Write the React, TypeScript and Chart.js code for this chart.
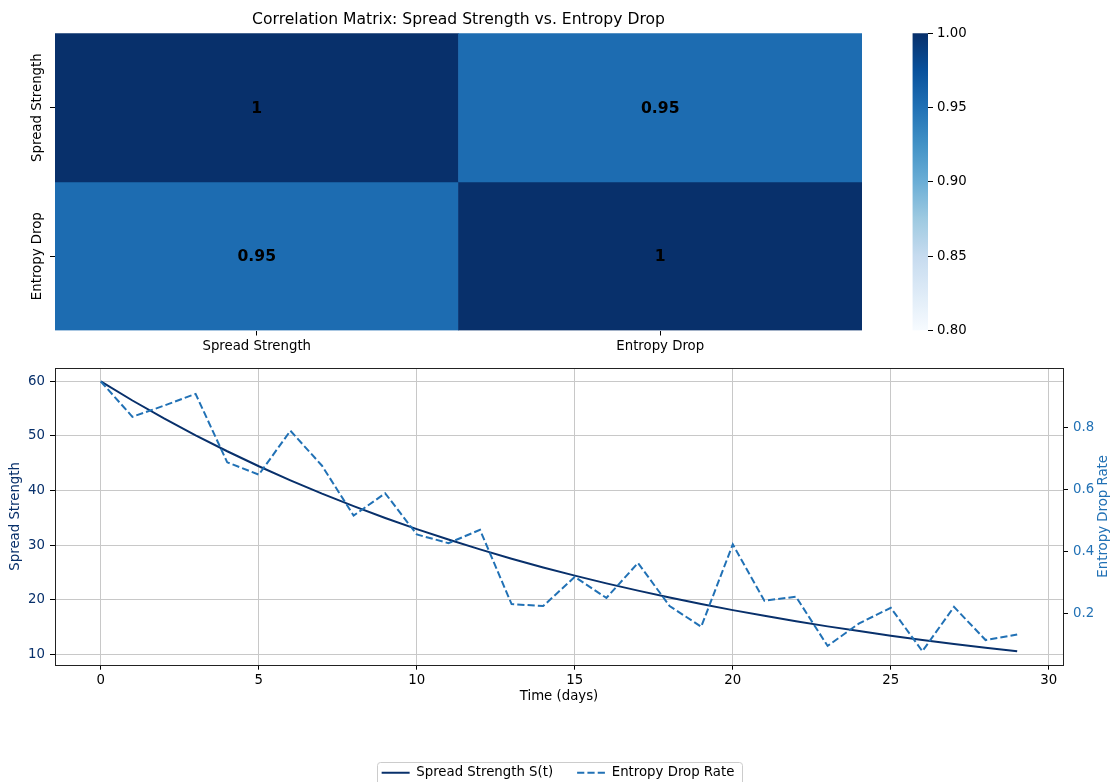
import React, { useEffect, useRef } from 'react';
import { Chart, registerables } from 'chart.js';

Chart.register(...registerables);

const FONT = "'DejaVu Sans', 'Liberation Sans', sans-serif";
Chart.defaults.font.family = FONT;
Chart.defaults.color = '#000';

// ---------- Heatmap data ----------
const matrixLabels = ['Spread Strength', 'Entropy Drop'];
const matrixRow0 = [1, 0.954];
const matrixRow1 = [0.954, 1];
const colorbarMin = 0.8;
const colorbarMax = 1.0;
const colorbarTicks = [0.8, 0.85, 0.9, 0.95, 1.0];
const heatTitle = 'Correlation Matrix: Spread Strength vs. Entropy Drop';

// ---------- Time series data ----------
const days = [0, 1, 2, 3, 4, 5, 6, 7, 8, 9, 10, 11, 12, 13, 14, 15, 16, 17, 18, 19, 20, 21, 22, 23, 24, 25, 26, 27, 28, 29];
const spreadStrength = [
  60.0, 56.51, 53.22, 50.12, 47.2, 44.45, 41.86, 39.42, 37.13, 34.96,
  32.93, 31.01, 29.21, 27.5, 25.9, 24.39, 22.97, 21.64, 20.38, 19.19,
  18.07, 17.02, 16.03, 15.09, 14.22, 13.39, 12.61, 11.87, 11.18, 10.53,
];
const entropyDrop = [
  0.949, 0.835, 0.871, 0.909, 0.688, 0.648, 0.79, 0.677, 0.516, 0.588,
  0.455, 0.427, 0.47, 0.23, 0.224, 0.318, 0.25, 0.363, 0.224, 0.157,
  0.423, 0.241, 0.254, 0.095, 0.168, 0.218, 0.078, 0.221, 0.114, 0.132,
];
const xTicks = [0, 5, 10, 15, 20, 25, 30];
const leftTicks = [10, 20, 30, 40, 50, 60];
const rightTicks = [0.2, 0.4, 0.6, 0.8];
const seriesLabels = ['Spread Strength S(t)', 'Entropy Drop Rate'];
const xTitle = 'Time (days)';
const leftTitle = 'Spread Strength';
const rightTitle = 'Entropy Drop Rate';

// ---------- Styles ----------
const NAVY = '#08306b';
const BLUE = '#2171b5';
const GRID = '#c8c8c8';
const BLUES = ['#f7fbff', '#deebf7', '#c6dbef', '#9ecae1', '#6baed6', '#4292c6', '#2171b5', '#08519c', '#08306b'];

function hexToRgb(h: string) {
  const n = parseInt(h.slice(1), 16);
  return [(n >> 16) & 255, (n >> 8) & 255, n & 255];
}
function blues(t: number) {
  const c = Math.max(0, Math.min(1, t)) * (BLUES.length - 1);
  const i = Math.min(Math.floor(c), BLUES.length - 2);
  const f = c - i;
  const a = hexToRgb(BLUES[i]);
  const b = hexToRgb(BLUES[i + 1]);
  const m = a.map((v, k) => Math.round(v + (b[k] - v) * f));
  return `rgb(${m[0]},${m[1]},${m[2]})`;
}
const fmt2g = (v: number) => String(Number(v.toPrecision(2)));

const FS = 13.3;
const font13 = { size: FS, family: FONT };
const LINE_LEFT = 3;

export default function App() {
  const heatRef = useRef<HTMLCanvasElement>(null);
  const cbRef = useRef<HTMLCanvasElement>(null);
  const lineRef = useRef<HTMLCanvasElement>(null);

  useEffect(() => {
    const rows = [matrixRow0, matrixRow1];

    const heatPlugin = {
      id: 'heatDecor',
      afterDatasetsDraw(chart: any) {
        const ctx = chart.ctx;
        ctx.save();
        ctx.font = `bold 15.6px ${FONT}`;
        ctx.fillStyle = '#000';
        ctx.textAlign = 'center';
        ctx.textBaseline = 'middle';
        chart.data.datasets.forEach((ds: any, di: number) => {
          const meta = chart.getDatasetMeta(di);
          meta.data.forEach((bar: any, j: number) => {
            const p = bar.getProps(['x', 'y', 'base'], true);
            ctx.fillText(fmt2g(rows[di][j]), p.x, (p.y + p.base) / 2 + 1);
          });
        });
        ctx.restore();
      },
      afterDraw(chart: any) {
        const ctx = chart.ctx;
        const ca = chart.chartArea;
        ctx.save();
        ctx.fillStyle = '#000';
        ctx.textAlign = 'center';
        ctx.textBaseline = 'middle';
        ctx.font = `15.6px ${FONT}`;
        ctx.fillText(heatTitle, (ca.left + ca.right) / 2, 20);
        ctx.font = `${FS}px ${FONT}`;
        const ys = chart.scales.y;
        matrixLabels.forEach((lab, i) => {
          const y = ys.getPixelForValue(i + 0.5);
          ctx.save();
          ctx.translate(37.5, y);
          ctx.rotate(-Math.PI / 2);
          ctx.fillText(lab, 0, 0);
          ctx.restore();
        });
        ctx.restore();
      },
    };

    const heat = new Chart(heatRef.current!, {
      type: 'bar',
      data: {
        labels: matrixLabels,
        datasets: rows.map((row, r) => ({
          data: row.map(() => [r, r + 1]),
          backgroundColor: row.map((v) => blues((v - colorbarMin) / (colorbarMax - colorbarMin))),
          borderWidth: 0,
          grouped: false,
          barPercentage: 1,
          categoryPercentage: 1,
        })) as any,
      },
      options: {
        responsive: false,
        animation: false,
        events: [],
        layout: { padding: { top: 33.3, right: 38, left: 0, bottom: 0 } },
        plugins: { legend: { display: false }, tooltip: { enabled: false }, title: { display: false } },
        scales: {
          x: {
            type: 'category',
            offset: true,
            grid: { offset: false, drawOnChartArea: false, drawTicks: true, tickLength: 5, tickColor: '#000', tickWidth: 1 },
            border: { display: false },
            ticks: { font: font13, color: '#000', padding: 3, maxRotation: 0, autoSkip: false },
            afterFit: (s: any) => { s.height = 29.5; },
          },
          y: {
            type: 'linear',
            min: 0,
            max: 2,
            reverse: true,
            afterBuildTicks: (s: any) => { s.ticks = matrixLabels.map((_, i) => ({ value: i + 0.5 })); },
            ticks: { display: false },
            grid: { drawOnChartArea: false, tickLength: 5, tickColor: '#000', tickWidth: 1 },
            border: { display: false },
            afterFit: (s: any) => { s.width = 55; },
          },
        },
      } as any,
      plugins: [heatPlugin],
    });

    const cb = new Chart(cbRef.current!, {
      type: 'bar',
      data: {
        labels: [''],
        datasets: [{
          data: [[colorbarMin, colorbarMax]],
          borderWidth: 0,
          barPercentage: 1,
          categoryPercentage: 1,
          backgroundColor: (c: any) => {
            const chart = c.chart;
            const ys = chart.scales && chart.scales.y;
            if (!chart.chartArea || !ys) return BLUES[6];
            const y0 = ys.getPixelForValue(colorbarMin);
            const y1 = ys.getPixelForValue(colorbarMax);
            const g = chart.ctx.createLinearGradient(0, y0, 0, y1);
            BLUES.forEach((col, i) => g.addColorStop(i / (BLUES.length - 1), col));
            return g;
          },
        }] as any,
      },
      options: {
        responsive: false,
        animation: false,
        events: [],
        layout: { padding: { top: 33.3, bottom: 29.5, left: 12.5, right: 0 } },
        plugins: { legend: { display: false }, tooltip: { enabled: false } },
        scales: {
          x: { display: false },
          y: {
            position: 'right',
            min: colorbarMin,
            max: colorbarMax,
            afterBuildTicks: (s: any) => { s.ticks = colorbarTicks.map((v) => ({ value: v })); },
            ticks: { font: font13, color: '#000', padding: 4, callback: (v: any) => Number(v).toFixed(2) },
            grid: { drawOnChartArea: false, tickLength: 5, tickColor: '#000', tickWidth: 1 },
            border: { display: false },
            afterFit: (s: any) => { s.width = 72; },
          },
        },
      } as any,
    });

    const lineDecor = {
      id: 'lineDecor',
      beforeDraw(chart: any) {
        const lg = chart.legend;
        if (!lg || !lg.legendHitBoxes || !lg.legendHitBoxes.length) return;
        const hb = lg.legendHitBoxes;
        const first = hb[0];
        const last = hb[hb.length - 1];
        const l = first.left - 5;
        const r = last.left + last.width + 7;
        const t = first.top - 4;
        const b = chart.height + 5;
        const ctx = chart.ctx;
        ctx.save();
        ctx.fillStyle = '#fff';
        ctx.strokeStyle = '#cccccc';
        ctx.lineWidth = 1;
        ctx.beginPath();
        (ctx as any).roundRect(Math.round(l) + 0.5, Math.round(t) + 0.5, Math.round(r - l), b - t, 3);
        ctx.fill();
        ctx.stroke();
        ctx.restore();
      },
      afterDatasetsDraw(chart: any) {
        const ctx = chart.ctx;
        const ca = chart.chartArea;
        ctx.save();
        ctx.strokeStyle = '#222';
        ctx.lineWidth = 1;
        ctx.strokeRect(Math.round(ca.left) + 0.5, Math.round(ca.top) + 0.5, Math.round(ca.right - ca.left), Math.round(ca.bottom - ca.top));
        ctx.restore();
      },
      afterDraw(chart: any) {
        const ctx = chart.ctx;
        const ca = chart.chartArea;
        ctx.save();
        ctx.fillStyle = BLUE;
        ctx.font = `${FS}px ${FONT}`;
        ctx.textAlign = 'center';
        ctx.textBaseline = 'middle';
        ctx.translate(1104 - LINE_LEFT, (ca.top + ca.bottom) / 2);
        ctx.rotate(-Math.PI / 2);
        ctx.fillText(rightTitle, 0, 0);
        ctx.restore();
      },
    };

    const line = new Chart(lineRef.current!, {
      type: 'line',
      data: {
        datasets: [
          {
            label: seriesLabels[0],
            data: days.map((d, i) => ({ x: d, y: spreadStrength[i] })),
            borderColor: NAVY,
            backgroundColor: NAVY,
            borderWidth: 2,
            pointRadius: 0,
            tension: 0,
            yAxisID: 'y',
            order: 1,
          },
          {
            label: seriesLabels[1],
            data: days.map((d, i) => ({ x: d, y: entropyDrop[i] })),
            borderColor: BLUE,
            backgroundColor: BLUE,
            borderWidth: 2,
            borderDash: [7.2, 3.1],
            pointRadius: 0,
            tension: 0,
            yAxisID: 'y1',
            order: 0,
          },
        ],
      },
      options: {
        responsive: false,
        animation: false,
        events: [],
        layout: { padding: { top: 28, bottom: 10.5, left: 0, right: 0 } },
        plugins: {
          tooltip: { enabled: false },
          legend: {
            position: 'bottom',
            labels: {
              usePointStyle: true,
              pointStyle: 'line',
              pointStyleWidth: 28,
              font: font13,
              color: '#000',
              padding: 24,
              sort: (a: any, b: any) => a.datasetIndex - b.datasetIndex,
              generateLabels: (chart: any) => {
                const items = (Chart.defaults as any).plugins.legend.labels.generateLabels(chart);
                return items.map((it: any) => {
                  const ds = chart.data.datasets[it.datasetIndex];
                  return {
                    ...it,
                    pointStyle: 'line',
                    lineDash: ds.borderDash || [],
                    lineWidth: 2,
                    strokeStyle: ds.borderColor,
                    fillStyle: ds.borderColor,
                    fontColor: '#000',
                  };
                });
              },
            },
          },
        },
        scales: {
          x: {
            type: 'linear',
            min: -1.45,
            max: 30.45,
            afterBuildTicks: (s: any) => { s.ticks = xTicks.map((v) => ({ value: v })); },
            ticks: { font: font13, color: '#000', padding: 3, callback: (v: any) => String(v) },
            grid: { color: GRID, lineWidth: 1, tickColor: '#000', tickLength: 5, tickWidth: 1 },
            border: { display: false },
            title: { display: true, text: xTitle, font: font13, color: '#000', padding: { top: 0, bottom: 37.5 } },
            afterFit: (s: any) => { s.height = 77.5; },
          },
          y: {
            type: 'linear',
            position: 'left',
            min: 8.06,
            max: 62.47,
            afterBuildTicks: (s: any) => { s.ticks = leftTicks.map((v) => ({ value: v })); },
            ticks: { font: font13, color: NAVY, padding: 5, callback: (v: any) => String(v) },
            grid: { color: GRID, lineWidth: 1, tickColor: '#000', tickLength: 5, tickWidth: 1 },
            border: { display: false },
            title: { display: true, text: leftTitle, font: font13, color: NAVY, padding: { top: 16 - LINE_LEFT - 8, bottom: 0 } },
            afterFit: (s: any) => { s.width = 55 - LINE_LEFT; },
          },
          y1: {
            type: 'linear',
            position: 'right',
            min: 0.0344,
            max: 0.9926,
            afterBuildTicks: (s: any) => { s.ticks = rightTicks.map((v) => ({ value: v })); },
            ticks: { font: font13, color: BLUE, padding: 5, callback: (v: any) => Number(v).toFixed(1) },
            grid: { drawOnChartArea: false, tickColor: '#000', tickLength: 5, tickWidth: 1 },
            border: { display: false },
            afterFit: (s: any) => { s.width = 1110 + LINE_LEFT - 1063; },
          },
        },
      } as any,
      plugins: [lineDecor],
    });

    return () => {
      heat.destroy();
      cb.destroy();
      line.destroy();
    };
  }, []);

  return (
    <div style={{ position: 'fixed', left: 0, top: 0, width: 1110, height: 782, overflow: 'hidden', background: '#fff' }}>
      <canvas ref={heatRef} width={900} height={360} style={{ position: 'absolute', left: 0, top: 0 }} />
      <canvas ref={cbRef} width={100} height={360} style={{ position: 'absolute', left: 900, top: 0 }} />
      <canvas ref={lineRef} width={1110} height={460} style={{ position: 'absolute', left: LINE_LEFT, top: 340 }} />
    </div>
  );
}
